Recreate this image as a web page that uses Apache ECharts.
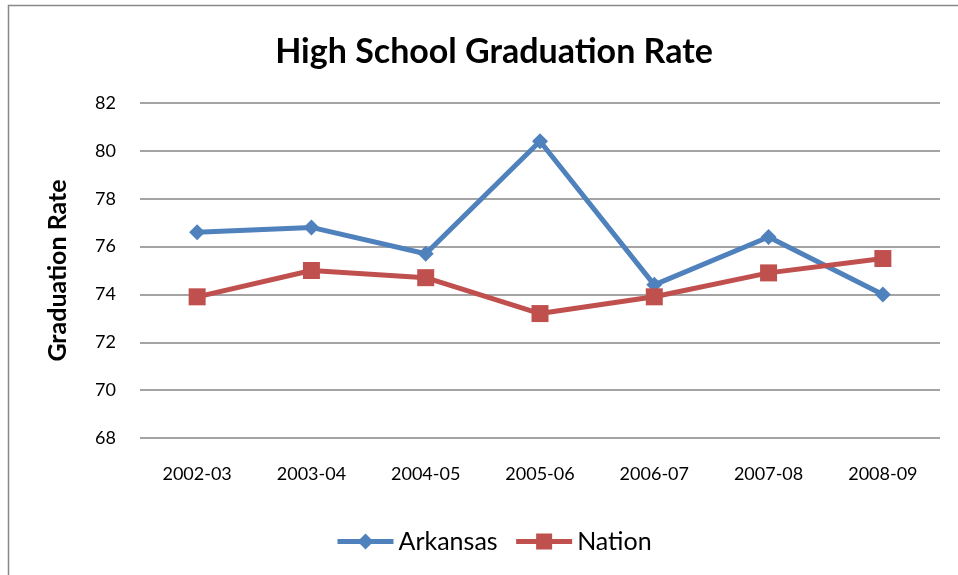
<!DOCTYPE html>
<html>
<head>
<meta charset="utf-8">
<title>High School Graduation Rate</title>
<script src="https://cdn.jsdelivr.net/npm/echarts@6/dist/echarts.min.js"></script>
<style>
  html, body { margin: 0; padding: 0; background: #fff; }
  #main { width: 958px; height: 575px; }
</style>
</head>
<body>
<div id="main"></div>
<script type="text/javascript">
    // data
    var years = ['2002-03', '2003-04', '2004-05', '2005-06', '2006-07', '2007-08', '2008-09'];
    var arkansas = [76.6, 76.8, 75.7, 80.4, 74.4, 76.4, 74.0];
    var nation = [73.9, 75.0, 74.7, 73.2, 73.9, 74.9, 75.5];

    var font = 'Lato, "Open Sans", sans-serif';
    var myChart = echarts.init(document.getElementById('main'));
    var option = {
        animation: false,
        textStyle: { fontFamily: font },
        graphic: [{
            type: 'rect',
            shape: { x: 8.5, y: 5.5, width: 1000, height: 1000 },
            style: { fill: 'none', stroke: '#888', lineWidth: 1.5 }
        }],
        title: {
            text: 'High School Graduation Rate',
            left: 489,
            textAlign: 'center',
            top: 30,
            textStyle: { fontFamily: font, fontSize: 34, fontWeight: 'bold', color: '#000' }
        },
        grid: { left: 140, right: 18, top: 103, bottom: 137 },
        legend: {
            bottom: 16,
            left: 330,
            itemWidth: 56,
            itemHeight: 20,
            itemGap: 16,
            textStyle: { fontFamily: font, fontSize: 25, color: '#000' },
            lineStyle: { width: 5 },
            data: ['Arkansas', 'Nation']
        },
        xAxis: {
            type: 'category',
            data: years,
            axisLine: { show: false },
            axisTick: { show: false },
            axisLabel: { fontFamily: font, fontSize: 18, color: '#000', margin: 27 }
        },
        yAxis: {
            type: 'value',
            min: 68,
            max: 82,
            interval: 2,
            name: 'Graduation Rate',
            nameLocation: 'middle',
            nameGap: 70,
            nameTextStyle: { fontFamily: font, fontSize: 25, fontWeight: 'bold', color: '#000' },
            axisLine: { show: false },
            axisTick: { show: false },
            axisLabel: { fontFamily: font, fontSize: 18, color: '#000', margin: 24 },
            splitLine: { lineStyle: { color: '#868686', width: 1.5 } }
        },
        series: [{
            name: 'Arkansas',
            type: 'line',
            data: arkansas,
            symbol: 'diamond',
            symbolSize: 16,
            lineStyle: { color: '#4F81BD', width: 5 },
            itemStyle: { color: '#4F81BD' }
        }, {
            name: 'Nation',
            type: 'line',
            data: nation,
            symbol: 'rect',
            symbolSize: 17,
            lineStyle: { color: '#C0504D', width: 5 },
            itemStyle: { color: '#C0504D' }
        }]
    };
    myChart.setOption(option);
</script>
</body>
</html>
